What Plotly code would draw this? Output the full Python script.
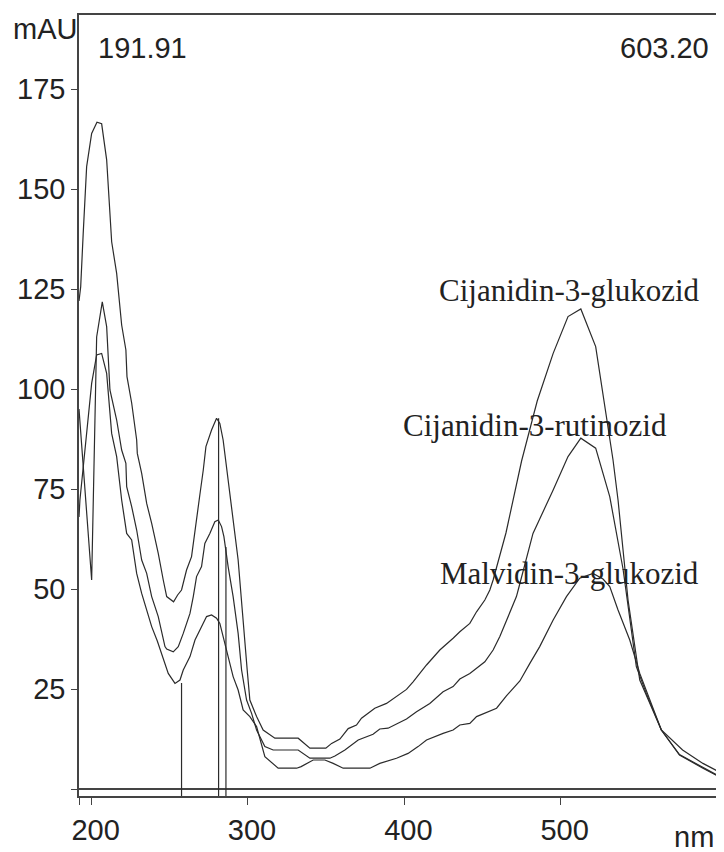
import plotly.graph_objects as go

# ---- data (wavelength in nm, absorbance in mAU) ----
wl_cy3glc = [191.91, 193.0, 194.6, 196.8, 200.0, 203.4, 206.4, 209.6, 212.8, 216.0,
             219.2, 221.9, 222.6, 225.6, 228.8, 229.2, 232.0, 235.2, 238.4, 242.6,
             245.8, 248.0, 252.4, 255.0, 257.5, 260.7, 263.9, 266.4, 269.2, 271.4,
             273.1, 276.7, 279.9, 282.0, 284.1, 287.3, 290.5, 293.7, 296.5, 298.5,
             299.5, 301.2, 305.5, 309.7, 317.2, 332.1, 339.6, 349.8, 353.5, 358.8,
             364.1, 369.4, 372.6, 381.1, 388.6, 401.4, 405.6, 414.2, 422.7, 431.2,
             435.5, 441.9, 446.2, 451.5, 454.7, 456.8, 465.0, 475.0, 485.0, 495.2,
             504.7, 512.9, 522.4, 533.5, 536.7, 543.1, 550.6, 564.4, 576.0, 591.0,
             603.2]
abs_cy3glc = [122.0, 125.6, 138.9, 155.6, 163.9, 166.7, 166.3, 157.3, 136.8, 128.9,
              116.0, 109.75, 103.1, 96.5, 87.25, 83.9, 78.9, 71.4, 66.4, 58.9,
              52.25, 48.1, 46.8, 48.5, 49.75, 54.75, 58.1, 66.0, 73.5, 79.75,
              85.6, 89.75, 92.7, 91.4, 87.25, 77.25, 67.25, 57.25, 44.0, 33.0,
              29.75, 22.25, 18.1, 14.75, 12.7, 12.7, 10.2, 10.2, 11.4, 12.5,
              15.1, 16.0, 17.7, 20.2, 21.4, 24.9, 26.8, 31.0, 34.75, 37.7,
              39.3, 41.4, 44.3, 47.25, 49.75, 52.25, 64.0, 82.0, 97.0, 108.9,
              118.1, 120.0, 110.6, 82.25, 72.25, 47.25, 27.25, 14.75, 8.5, 5.2,
              2.7]

wl_cy3rut = [191.91, 200.0, 203.2, 206.8, 209.6, 211.7, 216.0, 219.2, 221.9, 222.4,
             225.6, 228.8, 232.0, 235.2, 238.4, 242.6, 246.9, 248.0, 252.2, 255.4,
             258.6, 262.9, 265.0, 267.1, 270.3, 272.4, 275.6, 278.8, 281.0, 283.1,
             284.6, 287.3, 290.5, 293.7, 295.9, 299.1, 302.3, 305.5, 310.8, 316.1,
             332.1, 339.6, 352.4, 355.6, 362.0, 370.5, 380.0, 384.3, 389.6, 401.4,
             407.8, 416.3, 424.8, 431.2, 435.5, 441.9, 451.5, 456.8, 461.1, 467.4,
             471.7, 473.0, 482.3, 495.2, 504.7, 512.9, 522.4, 531.4, 539.9, 548.4,
             554.8, 564.4, 578.0, 591.0, 603.2]
abs_cy3rut = [95.0, 52.25, 113.0, 121.8, 115.6, 99.75, 92.25, 84.75, 81.4, 75.6,
              70.6, 64.75, 57.25, 53.9, 48.1, 43.1, 35.6, 35.0, 34.3, 35.6,
              38.9, 43.9, 48.1, 53.1, 55.6, 61.4, 63.9, 66.8, 67.25, 65.6,
              63.1, 55.6, 48.1, 38.9, 29.75, 22.25, 18.9, 14.75, 10.6, 9.75,
              9.75, 7.7, 7.7, 8.25, 9.75, 12.25, 13.7, 15.0, 15.2, 17.5,
              19.3, 21.4, 24.3, 25.6, 27.5, 28.9, 31.8, 34.75, 38.1, 43.9,
              48.1, 50.0, 63.9, 74.75, 83.1, 87.7, 85.2, 73.1, 55.0, 30.6,
              23.9, 14.75, 9.75, 6.4, 3.9]

wl_mv3glc = [191.91, 192.5, 200.0, 203.2, 206.4, 209.6, 212.8, 216.0, 219.2, 222.4,
             225.6, 228.8, 232.0, 235.2, 238.4, 242.0, 246.5, 249.0, 253.3, 256.5,
             258.6, 262.9, 266.1, 270.3, 273.5, 276.7, 279.9, 282.0, 284.1, 287.3,
             290.5, 293.7, 296.9, 301.2, 305.5, 310.8, 319.3, 331.1, 334.0, 341.7,
             349.2, 354.5, 360.9, 378.0, 384.3, 395.0, 402.4, 408.8, 414.2, 424.8,
             431.2, 435.5, 441.9, 446.2, 459.0, 465.3, 473.9, 480.3, 486.6, 495.2,
             503.7, 512.2, 520.7, 527.1, 531.4, 536.7, 544.2, 550.6, 557.0, 564.4,
             576.0, 591.0, 603.2]
abs_mv3glc = [68.0, 72.25, 101.4, 108.5, 108.9, 103.9, 88.9, 83.1, 72.25, 63.9,
              62.25, 53.9, 48.9, 44.75, 40.6, 37.0, 31.4, 28.9, 26.4, 27.25,
              29.75, 33.1, 37.25, 40.6, 43.1, 43.5, 42.7, 41.4, 38.1, 33.1,
              28.1, 24.75, 19.75, 18.1, 15.6, 8.1, 5.2, 5.2, 5.6, 7.25,
              7.25, 6.4, 5.2, 5.2, 6.4, 7.7, 8.9, 10.6, 12.25, 13.9,
              14.75, 16.0, 16.4, 18.1, 20.2, 23.3, 27.0, 31.4, 35.6, 42.25,
              48.1, 52.7, 53.9, 52.5, 50.6, 44.75, 37.25, 28.9, 22.25, 14.75,
              8.6, 5.3, 2.8]

# spectrum marker lines (wavelength, height reached)
marker_nm = [257.5, 281.2, 285.9]
marker_top = [26.5, 92.7, 60.5]

# curve labels
label_text = ["Cijanidin-3-glukozid", "Cijanidin-3-rutinozid", "Malvidin-3-glukozid"]
label_nm = [505.8, 483.5, 505.8]
label_mau = [124.75, 91.0, 54.0]

x_ticks = [191.91, 200, 300, 400, 500, 600]
x_ticktext = ["", "200", "300", "400", "500", ""]
y_ticks = [0, 25, 50, 75, 100, 125, 150, 175]
y_ticktext = ["", "25", "50", "75", "100", "125", "150", "175"]

X_MIN, X_MAX = 191.91, 603.2
Y_MIN, Y_MAX = -1.75, 193.5

LINE = "#2b2b2b"
AX = "#444444"
TXT = "#222222"
SANS = "Liberation Sans, Arial, sans-serif"
SERIF = "Liberation Serif, Times New Roman, serif"

fig = go.Figure()

# vertical marker lines
mx, my = [], []
for n, t in zip(marker_nm, marker_top):
    mx += [n, n, None]
    my += [Y_MIN, t, None]
fig.add_trace(go.Scatter(x=mx, y=my, mode="lines", line=dict(color=LINE, width=1.2),
                         showlegend=False, hoverinfo="skip"))

for wl, ab in [(wl_cy3glc, abs_cy3glc), (wl_cy3rut, abs_cy3rut), (wl_mv3glc, abs_mv3glc)]:
    fig.add_trace(go.Scatter(x=wl, y=ab, mode="lines", line=dict(color=LINE, width=1.2),
                             showlegend=False, hoverinfo="skip"))

annotations = []
for t, x, y in zip(label_text, label_nm, label_mau):
    annotations.append(dict(text=t, x=x, y=y, xref="x", yref="y", showarrow=False,
                            xanchor="center", yanchor="middle",
                            font=dict(family=SERIF, size=31, color=TXT)))

annotations += [
    dict(text="191.91", x=0.098, y=0.958, xref="paper", yref="paper", showarrow=False,
         xanchor="center", yanchor="middle", font=dict(family=SANS, size=29, color=TXT)),
    dict(text="603.20", x=0.911, y=0.958, xref="paper", yref="paper", showarrow=False,
         xanchor="center", yanchor="middle", font=dict(family=SANS, size=29, color=TXT)),
    dict(text="mAU", x=-0.053, y=0.982, xref="paper", yref="paper", showarrow=False,
         xanchor="center", yanchor="middle", font=dict(family=SANS, size=29, color=TXT)),
    dict(text="nm", x=0.956, y=-0.0525, xref="paper", yref="paper", showarrow=False,
         xanchor="center", yanchor="middle", font=dict(family=SANS, size=29, color=TXT)),
]

# the page body has an 8px margin, so the figure is sized to fit inside the window
fig.update_layout(
    width=716, height=844,
    margin=dict(l=71, r=2, t=7, b=56, autoexpand=False),
    plot_bgcolor="white", paper_bgcolor="white",
    showlegend=False,
    annotations=annotations,
    xaxis=dict(range=[X_MIN, X_MAX], tickvals=x_ticks, ticktext=x_ticktext,
               ticks="outside", ticklen=7, tickwidth=1.2, tickcolor=AX,
               showline=True, linecolor=AX, linewidth=2, mirror=True,
               showgrid=False, zeroline=False, ticklabelshift=4,
               tickfont=dict(family=SANS, size=29, color=TXT)),
    yaxis=dict(range=[Y_MIN, Y_MAX], tickvals=y_ticks, ticktext=y_ticktext,
               ticks="outside", ticklen=6, tickwidth=1.2, tickcolor=AX,
               showline=True, linecolor=AX, linewidth=1.5,
               showgrid=False, zeroline=True, zerolinecolor=AX, zerolinewidth=1.5,
               tickfont=dict(family=SANS, size=29, color=TXT)),
)

fig.write_html("out.html")
